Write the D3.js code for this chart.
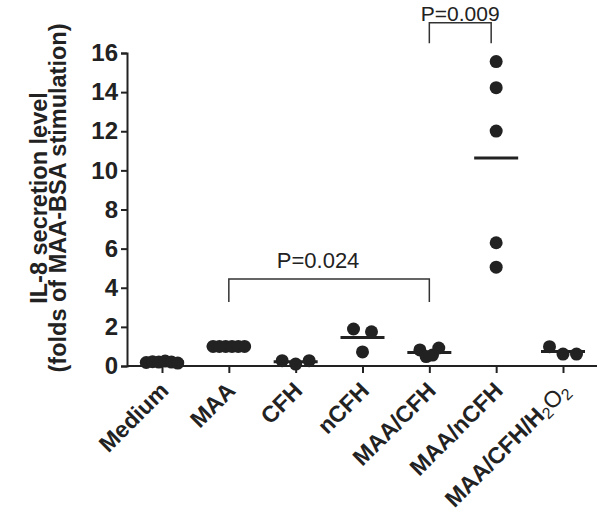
<!DOCTYPE html>
<html><head><meta charset="utf-8">
<script src="https://cdn.jsdelivr.net/npm/d3@7/dist/d3.min.js"></script>
<style>
html,body{margin:0;padding:0;background:#fff;}
svg{display:block;}
text{font-family:"Liberation Sans",Arial,sans-serif;}
</style></head>
<body>
<svg id="chart" width="600" height="512"></svg>
<script>
// ---- data ----
const categories = ["Medium","MAA","CFH","nCFH","MAA/CFH","MAA/nCFH","MAA/CFH/H2O2"];
const medium   = [0.18,0.22,0.20,0.25,0.20,0.15];
const maa      = [1.0,1.0,1.0,1.0,1.0,1.0];
const cfh      = [0.27,0.10,0.27];
const ncfh     = [1.89,0.72,1.75];
const maaCfh   = [0.82,0.48,0.56,0.92];
const maaNcfh  = [15.56,14.23,12.01,6.30,5.05];
const maaCfhH2o2 = [0.99,0.61,0.61];
const yTicks = [0,2,4,6,8,10,12,14,16];
const comparisons = [
  {from:"MAA", to:"MAA/CFH", label:"P=0.024", top:4.45, bottom:3.27},
  {from:"MAA/CFH", to:"MAA/nCFH", label:"P=0.009", top:17.55, bottom:16.5}
];
const groups = [medium, maa, cfh, ncfh, maaCfh, maaNcfh, maaCfhH2o2];

// ---- layout ----
const svg = d3.select("#chart");
const ink = "#222";
const x = d3.scalePoint().domain(categories).range([162, 563]);
const y = d3.scaleLinear().domain([0,16]).range([366, 53]);
const axisLeft = 127, axisRight = 597;

// y axis
const ya = svg.append("g").attr("transform", `translate(${axisLeft},0)`)
  .call(d3.axisLeft(y).tickValues(yTicks).tickSize(6).tickPadding(3));
ya.select(".domain").attr("stroke", ink).attr("stroke-width", 2);
ya.selectAll(".tick line").attr("stroke", ink).attr("stroke-width", 2);
ya.selectAll(".tick text").attr("fill", ink).style("font-size","24px").style("font-weight","bold")
  .style("font-family",'"Liberation Sans",Arial,sans-serif');

// x axis
const xa = svg.append("g").attr("transform", `translate(0,${y(0)})`)
  .call(d3.axisBottom(x).tickSize(7).tickSizeOuter(0));
xa.select(".domain").attr("d", `M${axisLeft},0H${axisRight}`).attr("stroke", ink).attr("stroke-width", 2);
xa.selectAll(".tick line").attr("stroke", ink).attr("stroke-width", 2);
xa.selectAll(".tick text").remove();

// x labels rotated
const xl = svg.append("g");
categories.forEach(c => {
  const t = xl.append("text")
    .attr("transform", `translate(${x(c)+8},${y(0)+26}) rotate(-45)`)
    .attr("text-anchor","end")
    .attr("fill", ink)
    .style("font-size","23px").style("font-weight","bold");
  if (c === "MAA/CFH/H2O2") {
    t.append("tspan").text("MAA/CFH/H");
    t.append("tspan").text("2").style("font-size","16px").style("font-weight","normal").attr("dy", 4);
    t.append("tspan").text("O").style("font-weight","normal").attr("dy", -4);
    t.append("tspan").text("2").style("font-size","16px").style("font-weight","normal").attr("dy", 4);
  } else {
    t.text(c);
  }
});

// y title
const yt = svg.append("text")
  .attr("transform", `translate(47,198) rotate(-90)`)
  .attr("text-anchor","middle").attr("fill", ink)
  .style("font-size","23.5px").style("font-weight","bold");
yt.append("tspan").attr("x",0).attr("dy",0).text("IL-8 secretion level");
yt.append("tspan").attr("x",0).attr("dy",19).text("(folds of MAA-BSA stimulation)");

// points: simple row-swarm layout
const r = 6.5;
function offsets(vals) {
  const idx = vals.map((v,i)=>i).sort((a,b)=>vals[a]-vals[b]);
  const res = new Array(vals.length).fill(0);
  let clusters = [], cur = [];
  idx.forEach(i => {
    if (cur.length && Math.abs(y(vals[i]) - y(vals[cur[0]])) >= 12) { clusters.push(cur); cur = []; }
    cur.push(i);
  });
  if (cur.length) clusters.push(cur);
  clusters.forEach(cl => {
    cl.sort((a,b)=>a-b);
    const n = cl.length;
    const sp = n === 1 ? 0 : n === 2 ? 18 : n === 3 ? 13.5 : 6.3;
    cl.forEach((i,k) => res[i] = (k - (n-1)/2) * sp);
  });
  return res;
}
const pg = svg.append("g");
groups.forEach((vals, gi) => {
  const c = categories[gi];
  const off = offsets(vals);
  const m = d3.mean(vals);
  pg.append("line")
    .attr("x1", x(c)-22).attr("x2", x(c)+22)
    .attr("y1", y(m)).attr("y2", y(m))
    .attr("stroke", ink).attr("stroke-width", 3);
  pg.selectAll(null).data(vals).enter().append("circle")
    .attr("cx", (d,i)=>x(c)+off[i]).attr("cy", d=>y(d)).attr("r", r)
    .attr("fill", ink);
});

// comparison brackets
const bg = svg.append("g");
comparisons.forEach((cmp, ci) => {
  const x1 = x(cmp.from), x2 = x(cmp.to) - (ci === 1 ? 5 : 0);
  bg.append("path")
    .attr("d", `M${x1},${y(cmp.bottom)}V${y(cmp.top)}H${x2}V${y(cmp.bottom)}`)
    .attr("fill","none").attr("stroke", "#333").attr("stroke-width", 1.5);
  bg.append("text")
    .attr("x", (x1+x2)/2 - (ci === 0 ? 11 : 0)).attr("y", y(cmp.top) - (ci === 0 ? 11 : 2))
    .attr("text-anchor","middle").attr("fill", ink)
    .style("font-size", ci === 0 ? "22px" : "21px").text(cmp.label);
});
</script>
</body></html>
